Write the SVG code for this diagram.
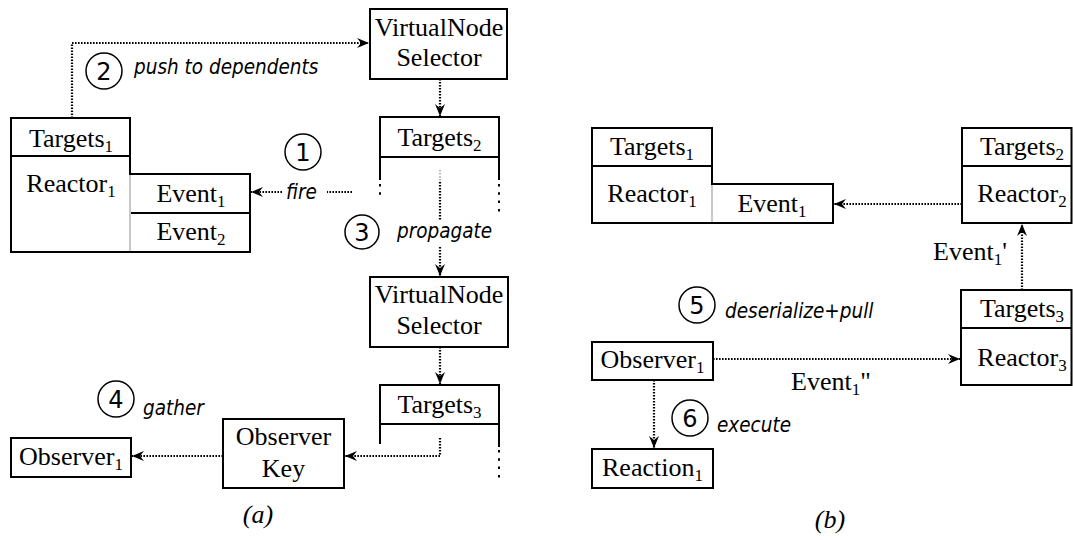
<svg xmlns="http://www.w3.org/2000/svg" width="1073" height="540" viewBox="0 0 1073 540">
<defs>
<marker id="ah" markerWidth="14" markerHeight="12" refX="12" refY="6" orient="auto" markerUnits="userSpaceOnUse"><path d="M0,1 L12,6 L0,11 L4,6 Z" fill="#000"/></marker>
</defs>
<style>
.box{fill:#fff;stroke:#000;stroke-width:2}
.ln{fill:none;stroke:#000;stroke-width:2}
.gray{fill:none;stroke:#c8c8c8;stroke-width:2}
.dot{fill:none;stroke:#000;stroke-width:2.2;stroke-dasharray:1.6 1.4}
.vd{fill:none;stroke:#000;stroke-width:2;stroke-dasharray:2.5 5.8}
.t{font-family:"Liberation Serif","Times New Roman",serif;font-size:26px;text-anchor:middle;fill:#000}
.s{font-size:17px}
.lab{font-family:"DejaVu Sans Condensed","DejaVu Sans",sans-serif;font-stretch:condensed;font-style:italic;font-size:20.5px;fill:#000}
.num{font-family:"DejaVu Sans",sans-serif;font-size:24px;text-anchor:middle;fill:#000}
.circ{fill:none;stroke:#000;stroke-width:1.5}
.cap{font-family:"Liberation Serif","Times New Roman",serif;font-style:italic;font-size:26px;text-anchor:middle;fill:#000}
</style>
<rect width="1073" height="540" fill="#fff"/>

<!-- ===== Panel (a) ===== -->
<g id="a-targets1-reactor1">
  <path class="box" d="M11,118 H130 V174 H250 V252 H11 Z"/>
  <line class="ln" x1="11" y1="156" x2="130" y2="156"/>
  <line class="gray" x1="130" y1="175" x2="130" y2="251"/>
  <line class="ln" x1="131" y1="213" x2="250" y2="213"/>
  <text class="t" x="71" y="147">Targets<tspan class="s" dy="5">1</tspan></text>
  <text class="t" x="71" y="192">Reactor<tspan class="s" dy="5">1</tspan></text>
  <text class="t" x="191" y="202">Event<tspan class="s" dy="5">1</tspan></text>
  <text class="t" x="191" y="240">Event<tspan class="s" dy="5">2</tspan></text>
</g>
<g id="a-vns1">
  <rect class="box" x="370" y="9" width="137" height="70"/>
  <text class="t" x="439" y="36">VirtualNode</text>
  <text class="t" x="439" y="66">Selector</text>
</g>
<g id="a-targets2">
  <rect class="box" x="380" y="117" width="119" height="40"/>
  <text class="t" x="439.5" y="146">Targets<tspan class="s" dy="5">2</tspan></text>
  <line class="ln" x1="380" y1="157" x2="380" y2="180"/>
  <line class="ln" x1="499" y1="157" x2="499" y2="180"/>
  <line class="vd" x1="380" y1="184" x2="380" y2="197"/>
  <line class="vd" x1="499" y1="184" x2="499" y2="213"/>
</g>
<g id="a-vns2">
  <rect class="box" x="370" y="277" width="138" height="70"/>
  <text class="t" x="439" y="303">VirtualNode</text>
  <text class="t" x="439" y="334">Selector</text>
</g>
<g id="a-targets3">
  <rect class="box" x="380" y="385" width="119" height="39"/>
  <text class="t" x="439.5" y="413">Targets<tspan class="s" dy="5">3</tspan></text>
  <line class="ln" x1="380" y1="424" x2="380" y2="444"/>
  <line class="ln" x1="499" y1="424" x2="499" y2="447"/>
  <line class="vd" x1="499" y1="450" x2="499" y2="481"/>
</g>
<g id="a-observerkey">
  <rect class="box" x="223" y="419" width="121" height="69"/>
  <text class="t" x="283.5" y="445">Observer</text>
  <text class="t" x="283.5" y="477">Key</text>
</g>
<g id="a-observer1">
  <rect class="box" x="11" y="438" width="120" height="39"/>
  <text class="t" x="71" y="465">Observer<tspan class="s" dy="5">1</tspan></text>
</g>
<g id="a-labels">
  <circle class="circ" cx="303" cy="152" r="18"/>
  <text class="num" x="303" y="161">1</text>
  <text class="lab" x="286" y="199">fire</text>
  <circle class="circ" cx="104" cy="71" r="18"/>
  <text class="num" x="104" y="80">2</text>
  <text class="lab" x="134" y="74">push to dependents</text>
  <circle class="circ" cx="362" cy="232" r="17"/>
  <text class="num" x="362" y="241">3</text>
  <text class="lab" x="397" y="238">propagate</text>
  <circle class="circ" cx="116" cy="399" r="18"/>
  <text class="num" x="116" y="408">4</text>
  <text class="lab" x="143" y="415">gather</text>
  <text class="cap" x="258" y="523">(a)</text>
</g>

<!-- ===== Panel (b) ===== -->
<g id="b-targets1-reactor1">
  <path class="box" d="M592,128 H712 V184 H833 V223 H592 Z"/>
  <line class="ln" x1="592" y1="166" x2="712" y2="166"/>
  <line class="gray" x1="712" y1="185" x2="712" y2="222"/>
  <text class="t" x="652" y="155">Targets<tspan class="s" dy="5">1</tspan></text>
  <text class="t" x="652" y="202">Reactor<tspan class="s" dy="5">1</tspan></text>
  <text class="t" x="772" y="212">Event<tspan class="s" dy="5">1</tspan></text>
</g>
<g id="b-targets2-reactor2">
  <rect class="box" x="962" y="128" width="109.5" height="95"/>
  <line class="ln" x1="962" y1="166" x2="1071.5" y2="166"/>
  <text class="t" x="1022" y="155">Targets<tspan class="s" dy="5">2</tspan></text>
  <text class="t" x="1022" y="202">Reactor<tspan class="s" dy="5">2</tspan></text>
</g>
<g id="b-targets3-reactor3">
  <rect class="box" x="961" y="290" width="110.5" height="95"/>
  <line class="ln" x1="961" y1="328" x2="1071.5" y2="328"/>
  <text class="t" x="1022" y="317">Targets<tspan class="s" dy="5">3</tspan></text>
  <text class="t" x="1022" y="366">Reactor<tspan class="s" dy="5">3</tspan></text>
</g>
<g id="b-observer1">
  <rect class="box" x="592" y="342" width="121" height="38"/>
  <text class="t" x="652.5" y="368">Observer<tspan class="s" dy="5">1</tspan></text>
</g>
<g id="b-reaction1">
  <rect class="box" x="592" y="449" width="121" height="39"/>
  <text class="t" x="652.5" y="476">Reaction<tspan class="s" dy="5">1</tspan></text>
</g>
<g id="b-labels">
  <text class="t" x="970" y="260">Event<tspan class="s" dy="5">1</tspan><tspan dy="-5">'</tspan></text>
  <text class="t" x="831" y="390">Event<tspan class="s" dy="5">1</tspan><tspan dy="-5">"</tspan></text>
  <circle class="circ" cx="697" cy="305" r="18"/>
  <text class="num" x="697" y="314">5</text>
  <text class="lab" x="725" y="318">deserialize+pull</text>
  <circle class="circ" cx="690" cy="418" r="18"/>
  <text class="num" x="690" y="427">6</text>
  <text class="lab" x="717" y="432">execute</text>
  <text class="cap" x="830" y="528">(b)</text>
</g>

<!-- ===== Connectors ===== -->
<g id="connectors">
  <path class="dot" d="M352,192 H327"/>
  <path class="dot" d="M282,192 H251" marker-end="url(#ah)"/>
  <path class="dot" d="M72,118 V43 H369" marker-end="url(#ah)"/>
  <path class="dot" d="M440,79 V116" marker-end="url(#ah)"/>
  <path class="dot" d="M440,170 V182" style="stroke:#bbb"/>
  <path class="dot" d="M440,182 V221"/>
  <path class="dot" d="M440,247 V276" marker-end="url(#ah)"/>
  <path class="dot" d="M440,347 V384" marker-end="url(#ah)"/>
  <path class="dot" d="M440,438 V456 H345" marker-end="url(#ah)"/>
  <path class="dot" d="M223,456 H132" marker-end="url(#ah)"/>
  <path class="dot" d="M962,204 H834" marker-end="url(#ah)"/>
  <path class="dot" d="M1022,290 V224" marker-end="url(#ah)"/>
  <path class="dot" d="M713,359 H960" marker-end="url(#ah)"/>
  <path class="dot" d="M654,380 V448" marker-end="url(#ah)"/>
</g>
</svg>
